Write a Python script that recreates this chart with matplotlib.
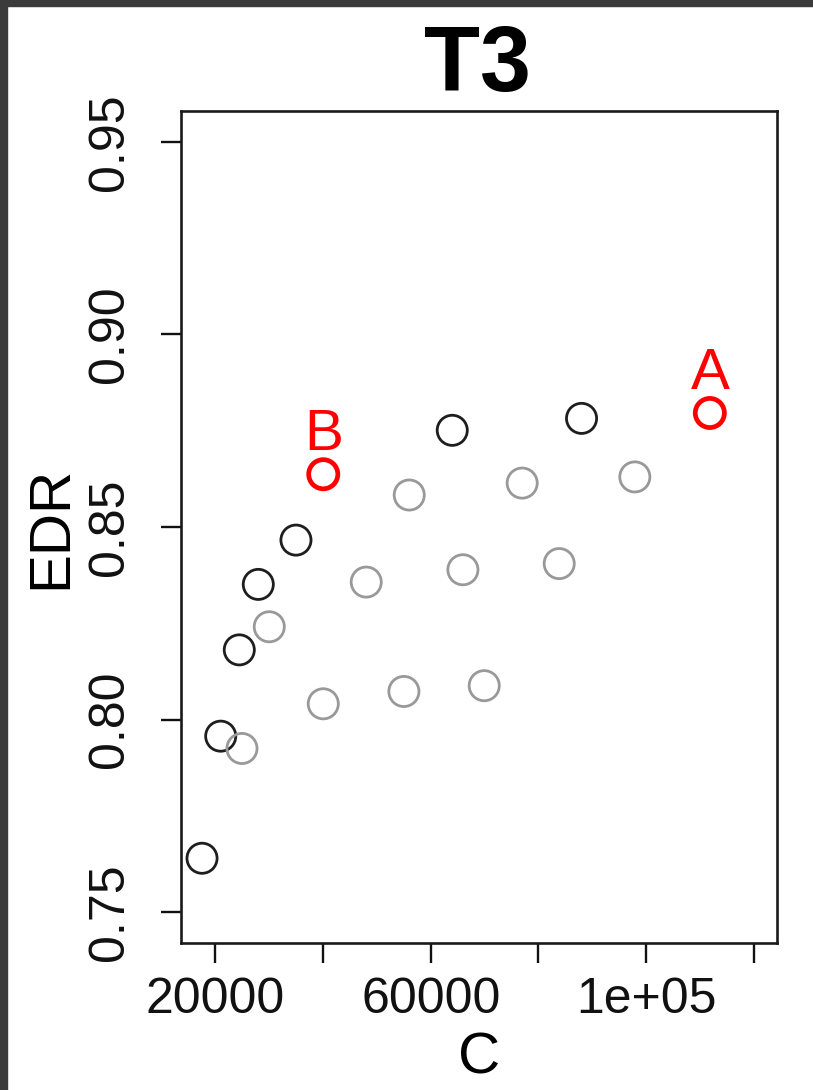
import matplotlib
matplotlib.use('Agg')
import matplotlib.pyplot as plt
from matplotlib.patches import Rectangle

plt.rcParams['font.family'] = ['Liberation Sans', 'DejaVu Sans']

# black series
c_black = [17500, 20970, 24420, 27950, 34950, 63980, 88000]
edr_black = [0.7640, 0.7957, 0.8181, 0.8351, 0.8466, 0.8751, 0.8782]

# gray series
c_gray = [24920, 29990, 40020, 48000, 55990, 55000, 65960, 69920, 76970, 83850, 97900]
edr_gray = [0.7925, 0.8241, 0.8041, 0.8357, 0.8583, 0.8073, 0.8389, 0.8088, 0.8614, 0.8405, 0.8630]

# labelled red points
red_labels = ['B', 'A']
c_red = [40020, 111830]
edr_red = [0.8637, 0.8796]

x_ticks = [20000, 40000, 60000, 80000, 100000, 120000]
x_ticklabels = ['20000', '', '60000', '', '1e+05', '']
y_ticks = [0.75, 0.80, 0.85, 0.90, 0.95]
y_ticklabels = ['0.75', '0.80', '0.85', '0.90', '0.95']

W, H = 813, 1090
fig = plt.figure(figsize=(W / 100, H / 100), dpi=100)
fig.patch.set_facecolor('white')

# dark frame strips on the left and top
fig.patches.append(Rectangle((0, 0), 7 / W, 1, transform=fig.transFigure, color='#3b3b3b', zorder=0))
fig.patches.append(Rectangle((0, 1 - 6 / H), 1, 6 / H, transform=fig.transFigure, color='#3b3b3b', zorder=0))

ax = fig.add_axes([181 / W, (H - 943) / H, (777 - 181) / W, (943 - 111) / H])
ax.set_xlim(13593, 124308)
ax.set_ylim(0.742, 0.958)

ax.scatter(c_black, edr_black, s=470, facecolors='none', edgecolors='#1e1e1e', linewidths=2.0, zorder=3)
ax.scatter(c_gray, edr_gray, s=470, facecolors='none', edgecolors='#999999', linewidths=2.0, zorder=3)
ax.scatter(c_red, edr_red, s=440, facecolors='none', edgecolors='#ff0000', linewidths=3.4, zorder=4)
for lab, cx, cy in zip(red_labels, c_red, edr_red):
    ax.annotate(lab, xy=(cx, cy), xytext=(0, 28), textcoords='offset points',
                ha='center', va='center', color='#ff0000', fontsize=42)

for sp in ax.spines.values():
    sp.set_linewidth(1.9)
    sp.set_color('#1a1a1a')

ax.set_xticks(x_ticks)
ax.set_xticklabels(x_ticklabels)
ax.set_yticks(y_ticks)
ax.set_yticklabels(y_ticklabels, rotation=90, va='center')
ax.tick_params(axis='both', length=14.4, width=1.7, labelsize=36, colors='#111111')
ax.tick_params(axis='x', pad=10)
ax.tick_params(axis='y', pad=20)

fig.text(477 / W, 1 - 91 / H, 'T3', ha='center', va='baseline', fontsize=66, fontweight='bold')
fig.text(479 / W, 1 - 1073 / H, 'C', ha='center', va='baseline', fontsize=42)
fig.text(66 / W, 1 - 527 / H, 'EDR', ha='center', va='baseline', rotation=90,
         rotation_mode='anchor', fontsize=42)

fig.savefig('out.png', dpi=100)
